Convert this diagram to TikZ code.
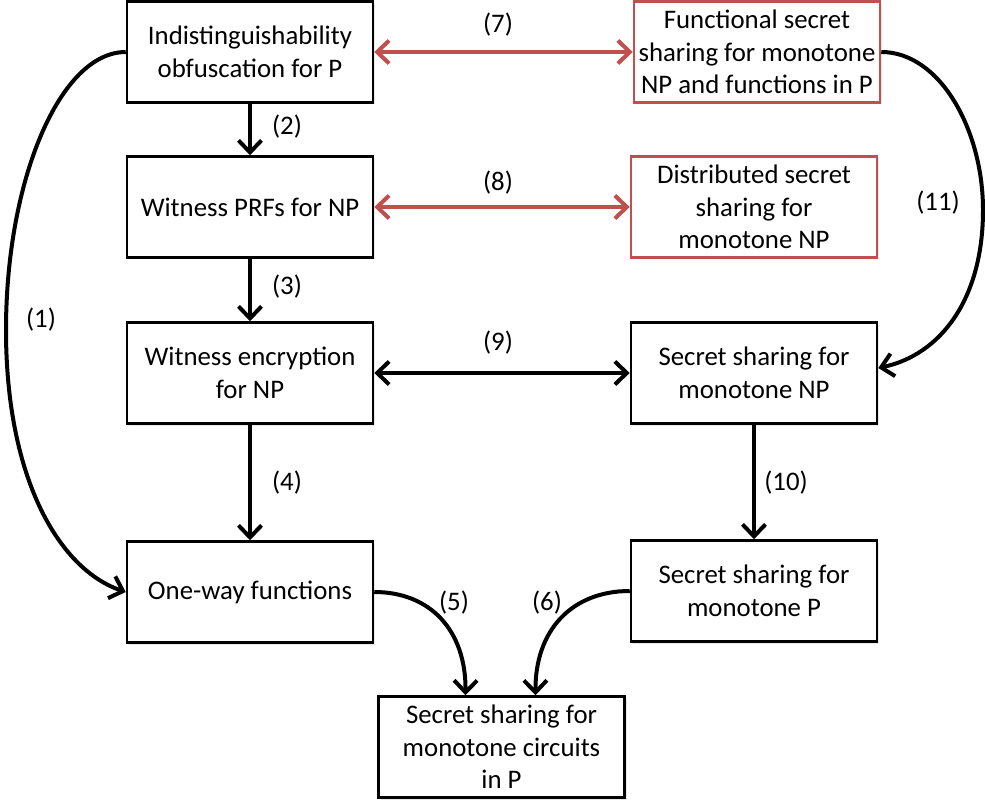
\documentclass[tikz,border=0pt]{standalone}
\usepackage{fontspec}
\setmainfont{Carlito}
\usetikzlibrary{arrows.meta,calc,shadows}
\definecolor{redline}{RGB}{192,80,77}
\begin{document}
\begin{tikzpicture}[x=1pt,y=-1pt,
  box/.style={draw=black, line width=2.5pt, fill=white, rectangle,
    minimum width=246pt, minimum height=101pt, align=center, inner sep=0pt,
    font=\fontsize{26.8}{32.5}\selectfont,
    drop shadow={opacity=0.18, shadow xshift=2pt, shadow yshift=-2pt}},
  redbox/.style={box, draw=redline},
  lbl/.style={font=\fontsize{26.8}{32.5}\selectfont, inner sep=0pt},
  tip/.tip={Straight Barb[length=12pt,width=23pt]},
  conn/.style={line width=4pt, -tip},
  dconn/.style={line width=4pt, tip-tip},
]
\useasboundingbox (0,0) rectangle (985,802);

\node[box]    (A) at (250,52)    {Indistinguishability\\obfuscation for P};
\node[redbox] (B) at (757,52)    {Functional secret\\sharing for monotone\\NP and functions in P};
\node[box]    (C) at (250,207)   {Witness PRFs for NP};
\node[redbox] (D) at (754,207)   {Distributed secret\\sharing for\\monotone NP};
\node[box]    (E) at (250,373)   {Witness encryption\\for NP};
\node[box]    (F) at (754,373)   {Secret sharing for\\monotone NP};
\node[box]    (G) at (250,592)   {One-way functions};
\node[box]    (H) at (754,591)   {Secret sharing for\\monotone P};
\node[box]    (I) at (501.5,747) {Secret sharing for\\monotone circuits\\in P};

\coordinate (k1) at (6,330);
\coordinate (k11) at (983,210);

% (1)
\draw[conn] (A.west) .. controls (60,52) and (6,180) .. (k1)
  .. controls (6,480) and (60,570) .. (G.west);
% (2)-(4)
\draw[conn] (A) -- (C);
\draw[conn] (C) -- (E);
\draw[conn] (E) -- (G);
% (5),(6)
\draw[conn] (G.east) .. controls (430,592) and (466,630) .. ($(I.north)+(-36,0)$);
\draw[conn] (H.west) .. controls (572,591) and (535,630) .. ($(I.north)+(34,0)$);
% (7),(8),(9)
\draw[dconn, redline] (A.east) -- (B.west);
\draw[dconn, redline] (C.east) -- (D.west);
\draw[dconn] (E.east) -- (F.west);
% (10)
\draw[conn] (F) -- (H);
% (11)
\draw[conn] (B.east) .. controls (940,52) and (983,130) .. (k11)
  .. controls (983,300) and (940,355) .. ($(F.east)+(0,-5)$);

\node[lbl] (l1)  at (41,320)  {(1)};
\node[lbl] (l2)  at (287,127) {(2)};
\node[lbl] (l3)  at (287,287) {(3)};
\node[lbl] (l4)  at (287,483) {(4)};
\node[lbl] (l5)  at (454,603) {(5)};
\node[lbl] (l6)  at (547,603) {(6)};
\node[lbl] (l7)  at (498,25)  {(7)};
\node[lbl] (l8)  at (498,183) {(8)};
\node[lbl] (l9)  at (498,343) {(9)};
\node[lbl] (l10) at (786,483) {(10)};
\node[lbl] (l11) at (938,203) {(11)};
\end{tikzpicture}
\end{document}
